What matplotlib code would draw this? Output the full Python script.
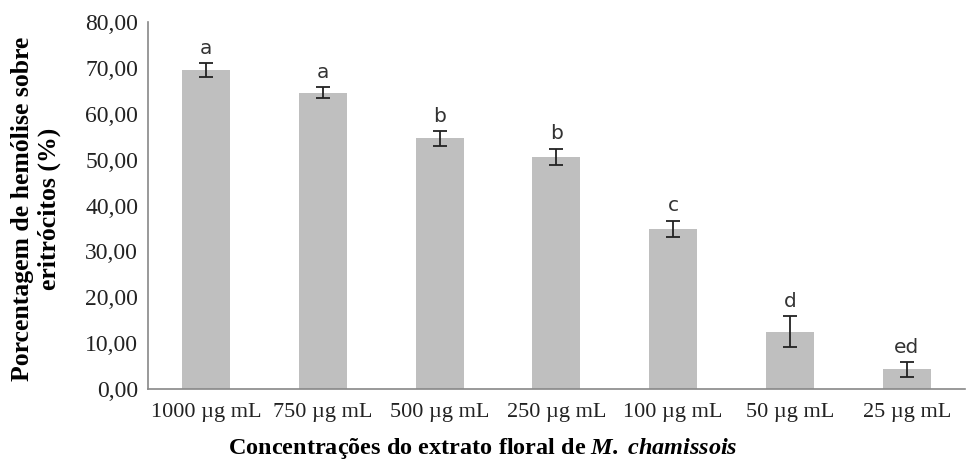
import numpy as np
import matplotlib.pyplot as plt

# hemolysis (%) per concentration of the floral extract
concentracoes = ['1000 µg mL', '750 µg mL', '500 µg mL', '250 µg mL',
                 '100 µg mL', '50 µg mL', '25 µg mL']
hemolise = [69.5, 64.6, 54.6, 50.6, 34.9, 12.5, 4.3]
erro = [1.5, 1.2, 1.6, 1.8, 1.8, 3.4, 1.6]
letras = ['a', 'a', 'b', 'b', 'c', 'd', 'ed']
yticks = [0, 10, 20, 30, 40, 50, 60, 70, 80]

plt.rcParams['mathtext.fontset'] = 'custom'
plt.rcParams['mathtext.bfit'] = 'Liberation Serif:bold:italic'

fig = plt.figure(figsize=(9.66, 4.65), dpi=100)
ax = fig.add_axes([0.153, 0.163, 0.846, 0.79])

x = np.arange(len(concentracoes))
ax.bar(x, hemolise, width=0.41, color='#bfbfbf', zorder=2)
ax.errorbar(x, hemolise, yerr=erro, fmt='none', ecolor='#222222',
            elinewidth=1.3, capsize=5, capthick=1.3, zorder=3)

for xi, v, e, t in zip(x, hemolise, erro, letras):
    ax.annotate(t, (xi, v + e), xytext=(0, 4), textcoords='offset points',
                ha='center', va='bottom', fontsize=14.5, color='#333333',
                family='DejaVu Sans')

ax.set_xlim(-0.5, len(concentracoes) - 0.5)
ax.set_ylim(0, 80)
ax.set_yticks(yticks)
ax.set_yticklabels(['{:.2f}'.format(v).replace('.', ',') for v in yticks],
                   family='Liberation Serif', fontsize=17, color='#222222')
ax.set_xticks(x)
ax.set_xticklabels(concentracoes, family='Liberation Serif', fontsize=16,
                   color='#222222')
ax.tick_params(axis='y', length=0, pad=7)
ax.tick_params(axis='x', length=0, pad=10)

for s in ['top', 'right']:
    ax.spines[s].set_visible(False)
for s in ['left', 'bottom']:
    ax.spines[s].set_color('#888888')
    ax.spines[s].set_linewidth(1.2)

ax.set_ylabel('Porcentagem de hemólise sobre\neritrócitos (%)',
              family='Liberation Serif', fontweight='bold', fontsize=18.5,
              linespacing=1.2)
ax.yaxis.label.set_va('center')
ax.yaxis.set_label_coords(-0.137, 0.49)
ax.set_xlabel('Concentrações do extrato floral de '
              r'$\mathbfit{M.\,chamissois}$',
              family='Liberation Serif', fontweight='bold', fontsize=17.5)
ax.xaxis.label.set_va('center')
ax.xaxis.set_label_coords(0.41, -0.161)

fig.savefig('out.png', dpi=100)
